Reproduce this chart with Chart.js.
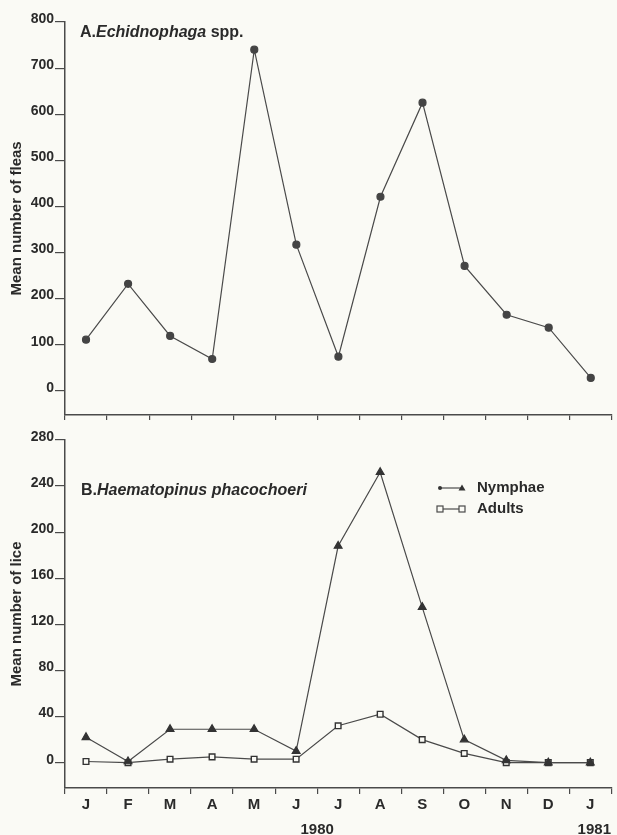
<!DOCTYPE html>
<html>
<head>
<meta charset="utf-8">
<script src="https://cdn.jsdelivr.net/npm/chart.js@4.4.0/dist/chart.umd.min.js"></script>
<style>
  html, body { margin: 0; padding: 0; background: #fafaf5; }
  #wrap { position: relative; width: 617px; height: 835px; }
  .box { position: absolute; left: 0; width: 617px; }
  #boxA { top: 0; height: 420px; }
  #boxB { top: 420px; height: 415px; }
</style>
</head>
<body>
<div id="wrap">
  <div class="box" id="boxA"><canvas id="chartA"></canvas></div>
  <div class="box" id="boxB"><canvas id="chartB"></canvas></div>
</div>
<script>
// data
const months = ['J', 'F', 'M', 'A', 'M', 'J', 'J', 'A', 'S', 'O', 'N', 'D', 'J'];
const fleas = [111, 232, 119, 69, 740, 317, 74, 421, 625, 271, 165, 137, 28];
const nymphae = [22, 1, 29, 29, 29, 10, 188, 252, 135, 20, 2, 0, 0];
const adults = [1, 0, 3, 5, 3, 3, 32, 42, 20, 8, 0, 0, 0];
const fleaTicks = [0, 100, 200, 300, 400, 500, 600, 700, 800];
const liceTicks = [0, 40, 80, 120, 160, 200, 240, 280];
const years = ['1980', '1981'];

const INK = '#2a2a2a';
const LINE = '#4a4a4a';
const FONT = "'Liberation Sans', Arial, sans-serif";

// draws "A.Echidnophaga spp." with the genus in italics
function drawTitle(ctx, x, y, parts) {
  ctx.save();
  ctx.fillStyle = INK;
  ctx.textBaseline = 'middle';
  let cx = x;
  parts.forEach(p => {
    ctx.font = (p.italic ? 'italic ' : '') + 'bold 16px ' + FONT;
    ctx.fillText(p.text, cx, y);
    cx += ctx.measureText(p.text).width;
  });
  ctx.restore();
}

function yAxis(ticksArr, min, max, title) {
  return {
    min: min,
    max: max,
    afterBuildTicks: s => { s.ticks = ticksArr.map(v => ({ value: v })); },
    afterFit: s => { s.width = 65; s.paddingTop = 0; s.paddingBottom = 0; },
    border: { display: true, color: LINE, width: 1.5 },
    grid: { drawOnChartArea: false, drawTicks: true, tickLength: 10, color: LINE, lineWidth: 1.2 },
    ticks: { color: INK, padding: 1, labelOffset: -3, font: { family: FONT, size: 14, weight: 'bold' } },
    title: { display: true, text: title, color: INK, padding: { top: 8, bottom: 0 }, font: { family: FONT, size: 15, weight: 'bold' } }
  };
}

// CHART A
const titleA = {
  id: 'titleA',
  afterDraw(chart) {
    drawTitle(chart.ctx, 80, 33, [
      { text: 'A.', italic: false },
      { text: 'Echidnophaga', italic: true },
      { text: ' spp.', italic: false }
    ]);
  }
};

new Chart(document.getElementById('chartA'), {
  type: 'line',
  data: {
    labels: months,
    datasets: [{
      label: 'Echidnophaga spp.',
      data: fleas,
      borderColor: LINE,
      borderWidth: 1.2,
      pointRadius: 3.5,
      pointBackgroundColor: '#444',
      pointBorderColor: '#444',
      tension: 0
    }]
  },
  options: {
    responsive: true,
    maintainAspectRatio: false,
    animation: false,
    layout: { padding: { top: 22, right: 2, left: 0, bottom: 0 } },
    plugins: { legend: { display: false }, tooltip: { enabled: false } },
    scales: {
      x: {
        offset: true,
        afterFit: s => { s.height = 5; s.paddingLeft = 0; s.paddingRight = 0; },
        border: { display: true, color: LINE, width: 1.5 },
        grid: { offset: true, drawOnChartArea: false, tickLength: 6, color: LINE, lineWidth: 1.2 },
        ticks: { display: false }
      },
      y: yAxis(fleaTicks, -52, 800, 'Mean number of fleas')
    }
  },
  plugins: [titleA]
});

// CHART B
const decorB = {
  id: 'decorB',
  afterDraw(chart) {
    const ctx = chart.ctx;
    drawTitle(ctx, 81, 71, [
      { text: 'B.', italic: false },
      { text: 'Haematopinus phacochoeri', italic: true }
    ]);

    // legend: line with markers, then label
    ctx.save();
    ctx.strokeStyle = LINE;
    ctx.fillStyle = INK;
    ctx.lineWidth = 1.2;
    const lx0 = 440, lx1 = 462;
    const rows = [{ y: 68, name: 'Nymphae', kind: 'tri' }, { y: 89, name: 'Adults', kind: 'sq' }];
    rows.forEach(r => {
      ctx.beginPath();
      ctx.moveTo(lx0, r.y);
      ctx.lineTo(lx1, r.y);
      ctx.stroke();
      [lx0, lx1].forEach((px, i) => {
        if (r.kind === 'tri') {
          ctx.fillStyle = '#333';
          if (i === 0) {
            ctx.beginPath();
            ctx.arc(px, r.y, 2, 0, Math.PI * 2);
            ctx.fill();
          } else {
            ctx.beginPath();
            ctx.moveTo(px, r.y - 3.5);
            ctx.lineTo(px + 3.5, r.y + 2.5);
            ctx.lineTo(px - 3.5, r.y + 2.5);
            ctx.closePath();
            ctx.fill();
          }
        } else {
          ctx.fillStyle = '#fafaf5';
          ctx.fillRect(px - 3, r.y - 3, 6, 6);
          ctx.strokeRect(px - 3, r.y - 3, 6, 6);
        }
      });
      ctx.fillStyle = INK;
      ctx.font = 'bold 15px ' + FONT;
      ctx.textBaseline = 'middle';
      ctx.fillText(r.name, 477, r.y);
    });

    // year labels under the month axis
    const xs = chart.scales.x;
    ctx.font = 'bold 15px ' + FONT;
    ctx.textAlign = 'center';
    ctx.fillText(years[0], (xs.getPixelForValue(5) + xs.getPixelForValue(6)) / 2, 410);
    ctx.fillText(years[1], xs.getPixelForValue(12) + 4, 410);
    ctx.restore();
  }
};

new Chart(document.getElementById('chartB'), {
  type: 'line',
  data: {
    labels: months,
    datasets: [
      {
        label: 'Nymphae',
        data: nymphae,
        borderColor: LINE,
        borderWidth: 1.2,
        pointStyle: 'triangle',
        pointRadius: 4.5,
        pointBackgroundColor: '#333',
        pointBorderColor: '#333',
        tension: 0
      },
      {
        label: 'Adults',
        data: adults,
        borderColor: LINE,
        borderWidth: 1.2,
        pointStyle: 'rect',
        pointRadius: 4,
        pointBorderWidth: 1.4,
        pointBackgroundColor: '#fafaf5',
        pointBorderColor: '#333',
        tension: 0
      }
    ]
  },
  options: {
    responsive: true,
    maintainAspectRatio: false,
    animation: false,
    layout: { padding: { top: 20, right: 2, left: 0, bottom: 0 } },
    plugins: { legend: { display: false }, tooltip: { enabled: false } },
    scales: {
      x: {
        offset: true,
        afterFit: s => { s.height = 47; },
        border: { display: true, color: LINE, width: 1.5 },
        grid: { offset: true, drawOnChartArea: false, tickLength: 6, color: LINE, lineWidth: 1.2 },
        ticks: { color: INK, padding: 2, maxRotation: 0, autoSkip: false, font: { family: FONT, size: 15, weight: 'bold' } }
      },
      y: yAxis(liceTicks, -22, 280, 'Mean number of lice')
    }
  },
  plugins: [decorB]
});
</script>
</body>
</html>
